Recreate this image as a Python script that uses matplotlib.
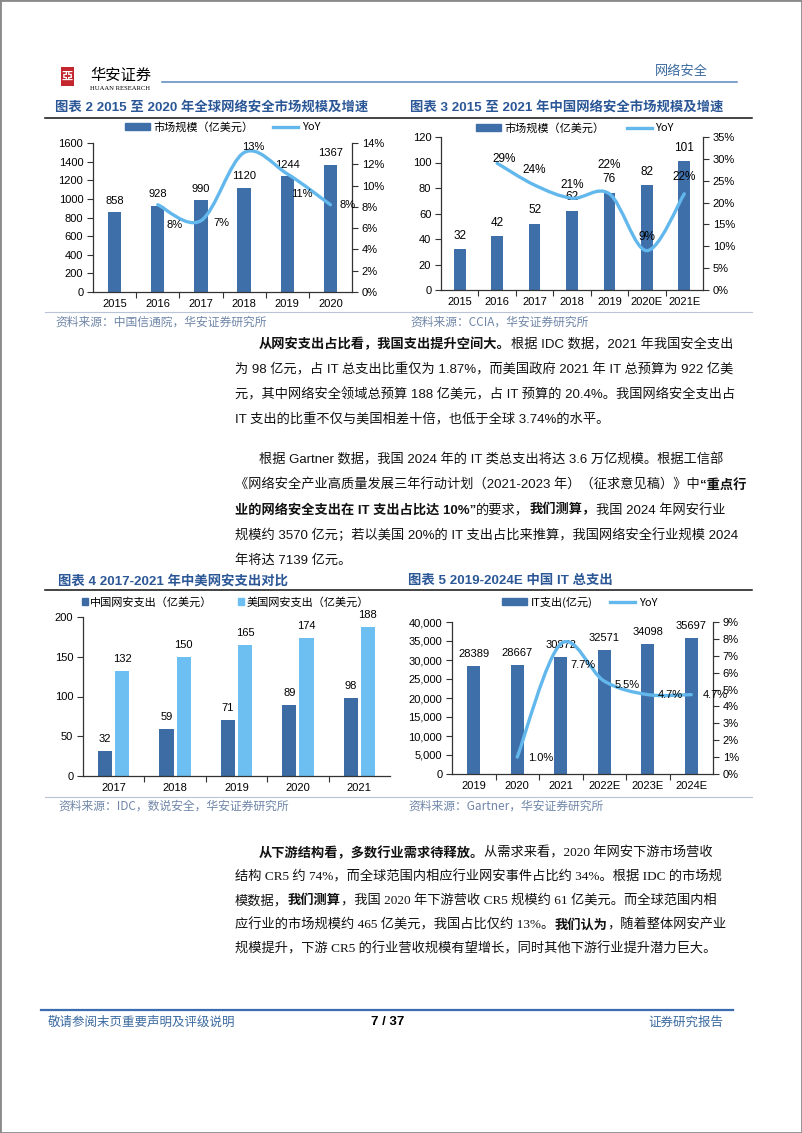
import matplotlib
matplotlib.use('Agg')
import matplotlib.pyplot as plt
from matplotlib.path import Path
from matplotlib.patches import PathPatch, Patch, Rectangle
from matplotlib.lines import Line2D

plt.rcParams['font.family'] = ['Liberation Sans', 'Noto Sans CJK SC']

# ---- data ----
g_years = ['2015', '2016', '2017', '2018', '2019', '2020']
g_size = [858, 928, 990, 1120, 1244, 1367]
g_yoy = [8.2, 6.7, 13.1, 11.1, 8.2]          # 2016-2020, %

cn_years = ['2015', '2016', '2017', '2018', '2019', '2020E', '2021E']
cn_size = [32, 42, 52, 62, 76, 82, 101]
cn_yoy = [29, 24, 21, 22, 9, 22]              # 2016-2021E, %

sp_years = ['2017', '2018', '2019', '2020', '2021']
sp_china = [32, 59, 71, 89, 98]
sp_us = [132, 150, 165, 174, 188]

it_years = ['2019', '2020', '2021', '2022E', '2023E', '2024E']
it_spend = [28389, 28667, 30872, 32571, 34098, 35697]
it_yoy = [1.0, 7.7, 5.5, 4.7, 4.7]            # 2020-2024E, %

# ---- page setup ----
W, H = 802, 1133
fig = plt.figure(figsize=(W / 100, H / 100), dpi=100)
fig.patch.set_facecolor('white')

page = fig.add_axes([0, 0, 1, 1])
page.set_xlim(0, W)
page.set_ylim(H, 0)
page.axis('off')

BAR = '#3f6fa9'
LINE = '#62b8ec'
TITLE = '#2b5797'
SRC = '#6f86a8'
CJK = ['Noto Sans CJK SC', 'DejaVu Sans']


def make_axes(l, t, r, b):
    ax = fig.add_axes([l / W, 1 - b / H, (r - l) / W, (b - t) / H])
    ax.patch.set_alpha(0)
    return ax


def base_style(ax, labels):
    n = len(labels)
    ax.spines['top'].set_visible(False)
    ax.spines['right'].set_visible(False)
    for s in ax.spines.values():
        s.set_color('#333333')
        s.set_linewidth(0.9)
    ax.set_xlim(-0.5, n - 0.5)
    ax.set_xticks(range(n))
    ax.set_xticklabels(labels)
    ax.set_xticks([i + 0.5 for i in range(n - 1)], minor=True)
    ax.tick_params(axis='x', which='major', length=0, pad=5, labelsize=8)
    ax.tick_params(axis='x', which='minor', length=4, width=0.8, color='#333333')
    ax.tick_params(axis='y', length=4, width=0.8, color='#333333', labelsize=8, pad=3)


def yoy_axis(ax, top, step):
    tw = ax.twinx()
    tw.patch.set_alpha(0)
    tw.spines['top'].set_visible(False)
    tw.spines['left'].set_visible(False)
    tw.spines['bottom'].set_visible(False)
    tw.spines['right'].set_color('#333333')
    tw.spines['right'].set_linewidth(0.9)
    tw.set_ylim(0, top)
    ticks = [i * step for i in range(int(round(top / step)) + 1)]
    tw.set_yticks(ticks)
    tw.set_yticklabels(['%d%%' % t for t in ticks])
    tw.tick_params(axis='y', length=4, width=0.8, color='#333333', labelsize=8, pad=3)
    return tw


def smooth_line(ax, xs, ys):
    # Excel-style smoothed line drawn as cubic Bezier segments
    pts = list(zip(xs, ys))
    verts = [pts[0]]
    codes = [Path.MOVETO]
    for i in range(len(pts) - 1):
        p0 = pts[i - 1] if i > 0 else pts[i]
        p1, p2 = pts[i], pts[i + 1]
        p3 = pts[i + 2] if i + 2 < len(pts) else p2
        c1 = (p1[0] + (p2[0] - p0[0]) / 6, p1[1] + (p2[1] - p0[1]) / 6)
        c2 = (p2[0] - (p3[0] - p1[0]) / 6, p2[1] - (p3[1] - p1[1]) / 6)
        verts += [c1, c2, p2]
        codes += [Path.CURVE4] * 3
    ax.add_patch(PathPatch(Path(verts, codes), facecolor='none', edgecolor=LINE,
                           lw=2.4, capstyle='round', joinstyle='round', zorder=5))


def yoy_labels(ax, xs, ys, fmt, offsets, size=8):
    for x, y, (dx, dy) in zip(xs, ys, offsets):
        ax.annotate(fmt % y, (x, y), xytext=(dx, dy), textcoords='offset pixels',
                    ha='center', va='center', fontsize=size, zorder=6)


def legend(ax, labels, xc, yoff, colsp):
    handles = [Patch(color=BAR), Line2D([], [], color=LINE, lw=2.4)]
    ax.legend(handles, labels, loc='center', bbox_to_anchor=(xc, 1 + yoff),
              ncol=2, frameon=False, handlelength=2.25, handleheight=0.6,
              columnspacing=colsp, handletextpad=0.3,
              prop={'family': CJK, 'size': 8})


# ---- header ----
page.add_patch(Rectangle((61, 67), 13, 19, facecolor='#c4262e', edgecolor='none'))
page.text(67.5, 76.5, '亞', color='white', fontsize=8, ha='center', va='center',
          family=CJK, fontweight='bold')
page.text(90, 75, '华安证券', fontsize=11, ha='left', va='center', family=CJK)
page.text(90, 89, 'HUAAN RESEARCH', fontsize=4.8, ha='left', va='center',
          family='Liberation Serif')
page.plot([162, 737], [82, 82], color='#5b86bf', lw=1.1)
page.text(708, 72, '网络安全', fontsize=9.5, color='#3b6aa0', ha='right', va='center',
          family=CJK)

# page frame
fig.add_artist(Rectangle((0, 0), 1, 1, transform=fig.transFigure, fill=False,
                         edgecolor='#8a8a8a', lw=2))

# ---- section titles / rules / sources ----
TFS = 9.6
page.text(55, 107, '图表 2 2015 至 2020 年全球网络安全市场规模及增速', fontsize=TFS,
          fontweight='bold', color=TITLE, va='center')
page.text(410, 107, '图表 3 2015 至 2021 年中国网络安全市场规模及增速', fontsize=TFS,
          fontweight='bold', color=TITLE, va='center')
page.plot([45, 752], [118, 118], color='#111111', lw=1.1)
page.plot([45, 752], [312, 312], color='#b8c4d6', lw=0.8)
page.text(55, 322, '资料来源：中国信通院，华安证券研究所', fontsize=8.5, color=SRC,
          va='center', family=CJK)
page.text(410, 322, '资料来源：CCIA，华安证券研究所', fontsize=8.5, color=SRC,
          va='center', family=CJK)

page.text(58, 581, '图表 4 2017-2021 年中美网安支出对比', fontsize=TFS,
          fontweight='bold', color=TITLE, va='center')
page.text(408, 581, '图表 5 2019-2024E 中国 IT 总支出', fontsize=TFS,
          fontweight='bold', color=TITLE, va='center')
page.plot([45, 752], [590, 590], color='#111111', lw=1.1)
page.plot([45, 752], [797, 797], color='#b8c4d6', lw=0.8)
page.text(58, 806, '资料来源：IDC，数说安全，华安证券研究所', fontsize=8.5, color=SRC,
          va='center', family=CJK)
page.text(408, 806, '资料来源：Gartner，华安证券研究所', fontsize=8.5, color=SRC,
          va='center', family=CJK)

# ---- chart 2 ----
ax = make_axes(93, 143, 352, 292)
base_style(ax, g_years)
bars = ax.bar(range(len(g_years)), g_size, width=0.31, color=BAR, zorder=2)
ax.bar_label(bars, padding=4.5, fontsize=8)
ax.set_ylim(0, 1600)
ax.set_yticks(range(0, 1601, 200))
tw = yoy_axis(ax, 14, 2)
xs = list(range(1, len(g_years)))
smooth_line(tw, xs, g_yoy)
yoy_labels(tw, xs, g_yoy, '%.0f%%', [(17, -20), (20, -2), (9, 6), (15, -20), (17, 0)])
legend(tw, ['市场规模（亿美元）', 'YoY'], 0.5, 16 / 149, 1.8)

# ---- chart 3 ----
ax = make_axes(441, 137, 703, 290)
base_style(ax, cn_years)
bars = ax.bar(range(len(cn_years)), cn_size, width=0.31, color=BAR, zorder=2)
ax.bar_label(bars, padding=5.5, fontsize=8.5)
ax.set_ylim(0, 120)
ax.set_yticks(range(0, 121, 20))
tw = yoy_axis(ax, 35, 5)
xs = list(range(1, len(cn_years)))
smooth_line(tw, xs, cn_yoy)
yoy_labels(tw, xs, cn_yoy, '%d%%', [(7, 4), (0, 15), (0, 13), (0, 29), (0, 14), (0, 17)],
           size=8.5)
legend(tw, ['市场规模（亿美元）', 'YoY'], 0.51, 9 / 153, 2.0)

# ---- chart 4 ----
ax = make_axes(83, 617, 390, 776)
base_style(ax, sp_years)
xi = range(len(sp_years))
b1 = ax.bar([i - 0.14 for i in xi], sp_china, width=0.23, color='#3d6ca5', zorder=2)
b2 = ax.bar([i + 0.14 for i in xi], sp_us, width=0.23, color='#6cbff0', zorder=2)
ax.bar_label(b1, padding=5, fontsize=8)
ax.bar_label(b2, padding=5, fontsize=8)
ax.set_ylim(0, 200)
ax.set_yticks(range(0, 201, 50))
ax.legend([Patch(color='#3d6ca5'), Patch(color='#6cbff0')],
          ['中国网安支出（亿美元）', '美国网安支出（亿美元）'], loc='center',
          bbox_to_anchor=(0.464, 1 + 15 / 159), ncol=2, frameon=False,
          handlelength=0.55, handleheight=0.55, handletextpad=0.2, columnspacing=2.3,
          prop={'family': CJK, 'size': 8})

# ---- chart 5 ----
ax = make_axes(452, 622, 713, 774)
base_style(ax, it_years)
bars = ax.bar(range(len(it_years)), it_spend, width=0.31, color=BAR, zorder=2)
ax.bar_label(bars, padding=5, fontsize=8)
ax.set_ylim(0, 40000)
ax.set_yticks(range(0, 40001, 5000))
ax.set_yticklabels(['{:,}'.format(v) for v in range(0, 40001, 5000)])
tw = yoy_axis(ax, 9, 1)
xs = list(range(1, len(it_years)))
smooth_line(tw, xs, it_yoy)
yoy_labels(tw, xs, it_yoy, '%.1f%%', [(23, -1), (22, -21), (23, -4), (23, 0), (24, 0)])
legend(tw, ['IT支出(亿元)', 'YoY'], 0.49, 20 / 152, 1.6)

# ---- body text ----
SANS = ['Liberation Sans', 'Noto Sans CJK SC']
SERIF = ['Liberation Serif', 'Noto Sans CJK SC']


def para_line(x, y, segments, family, size=9.5):
    prev = None
    for txt, bold in segments:
        w = 'bold' if bold else 'normal'
        if prev is None:
            prev = page.text(x, y, txt, ha='left', va='center', fontsize=size,
                             fontweight=w, family=family, color='#111111')
        else:
            prev = page.annotate(txt, xy=(1, 0.5), xycoords=prev, ha='left',
                                 va='center', fontsize=size, fontweight=w,
                                 family=family, color='#111111')


p1 = [
    [('从网安支出占比看，我国支出提升空间大。', True), ('根据 IDC 数据，2021 年我国安全支出', False)],
    [('为 98 亿元，占 IT 总支出比重仅为 1.87%，而美国政府 2021 年 IT 总预算为 922 亿美', False)],
    [('元，其中网络安全领域总预算 188 亿美元，占 IT 预算的 20.4%。我国网络安全支出占', False)],
    [('IT 支出的比重不仅与美国相差十倍，也低于全球 3.74%的水平。', False)],
]
p2 = [
    [('根据 Gartner 数据，我国 2024 年的 IT 类总支出将达 3.6 万亿规模。根据工信部', False)],
    [('《网络安全产业高质量发展三年行动计划（2021-2023 年）（征求意见稿）》中', False),
     ('“重点行', True)],
    [('业的网络安全支出在 IT 支出占比达 10%”', True), ('的要求，', False),
     ('我们测算，', True), ('我国 2024 年网安行业', False)],
    [('规模约 3570 亿元；若以美国 20%的 IT 支出占比来推算，我国网络安全行业规模 2024', False)],
    [('年将达 7139 亿元。', False)],
]
p3 = [
    [('从下游结构看，多数行业需求待释放。', True), ('从需求来看，2020 年网安下游市场营收', False)],
    [('结构 CR5 约 74%，而全球范围内相应行业网安事件占比约 34%。根据 IDC 的市场规', False)],
    [('模数据，', False), ('我们测算', True),
     ('，我国 2020 年下游营收 CR5 规模约 61 亿美元。而全球范围内相', False)],
    [('应行业的市场规模约 465 亿美元，我国占比仅约 13%。', False), ('我们认为', True),
     ('，随着整体网安产业', False)],
    [('规模提升，下游 CR5 的行业营收规模有望增长，同时其他下游行业提升潜力巨大。', False)],
]

for lines, ys, fam in [(p1, [345, 370, 395, 420], SANS),
                       (p2, [460, 485, 510, 535, 560], SANS),
                       (p3, [853, 877, 901, 925, 949], SERIF)]:
    for i, (segs, y) in enumerate(zip(lines, ys)):
        para_line(259 if i == 0 else 235, y, segs, fam)

# ---- footer ----
page.plot([41, 733], [1010, 1010], color='#3a6db0', lw=1.6)
page.text(48, 1022, '敬请参阅末页重要声明及评级说明', fontsize=9, color='#3b6aa0',
          va='center', family=CJK)
page.text(388, 1022, '7 / 37', fontsize=9.5, fontweight='bold', ha='center',
          va='center')
page.text(723, 1022, '证券研究报告', fontsize=9, color='#3b6aa0', ha='right',
          va='center', family=CJK)

fig.savefig('out.png', dpi=100)
